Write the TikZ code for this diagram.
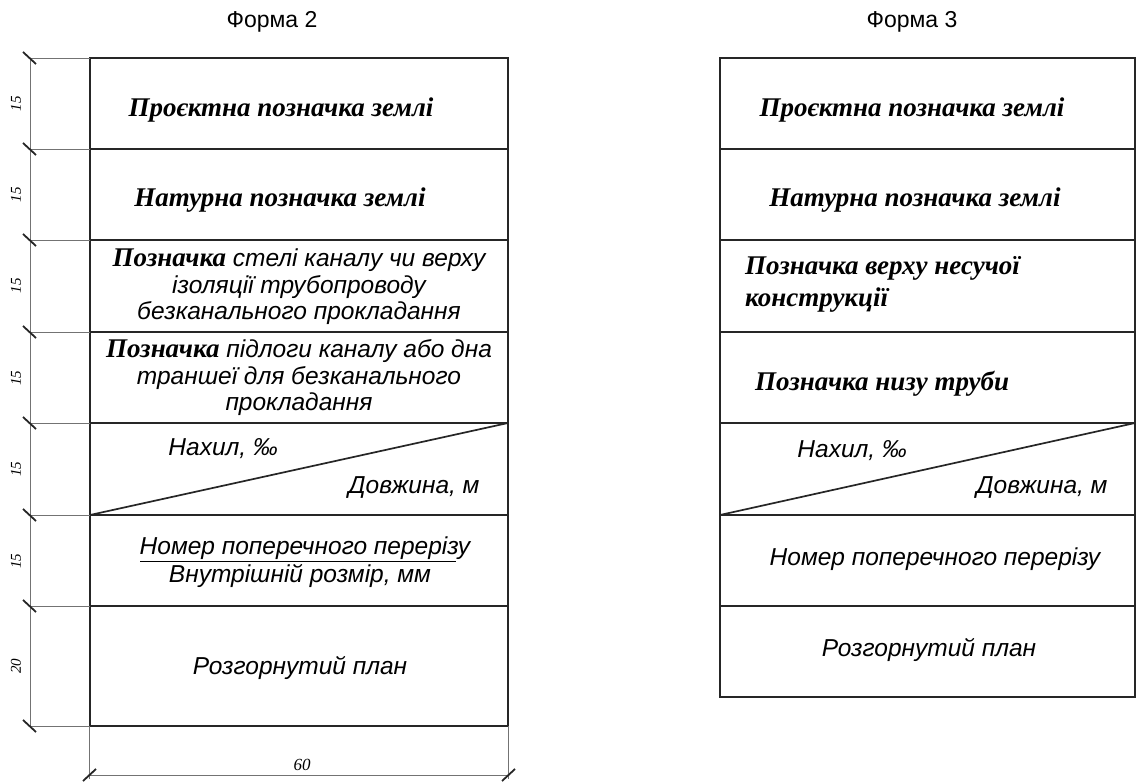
\documentclass[tikz,border=0pt]{standalone}
\usepackage{fontspec}
\setmainfont{Liberation Serif}
\setsansfont{Liberation Sans}
\usetikzlibrary{calc}
\newcommand{\srf}{\fontsize{27}{32}\selectfont\rmfamily\bfseries\itshape}
\newcommand{\snf}{\fontsize{24.5}{26.5}\selectfont\sffamily\itshape}
\tikzset{
	frame/.style={line width=1.7pt, color=black!85},
	extline/.style={line width=0.8pt, color=black!55},
	dimtick/.style={line width=1.8pt, color=black!85},
	sertext/.style={font=\srf},
	santext/.style={font=\snf, align=center},
	title/.style={font=\fontsize{23}{26}\selectfont\sffamily},
	dimnum/.style={font=\fontsize{15}{16}\selectfont\itshape, rotate=90}
}

\begin{document}
\begin{tikzpicture}[x=1pt, y=-1pt]
		%%%%% START %%%%%
		\useasboundingbox (0, 0) rectangle (1137, 783);
		
		\node[title] (ttwo) at (272, 22) {Форма 2};
		\node[title] (tthree) at (912, 22) {Форма 3};
		
		%%%%% FORM 2 %%%%%
		\draw[frame] (90, 58) rectangle (508, 726);
		\draw[frame] (90, 149) -- (508, 149);
		\draw[frame] (90, 240) -- (508, 240);
		\draw[frame] (90, 332) -- (508, 332);
		\draw[frame] (90, 423) -- (508, 423);
		\draw[frame] (90, 515) -- (508, 515);
		\draw[frame] (90, 606) -- (508, 606);
		\draw[frame] (90, 515) -- (508, 423);
		
		% dimension line on the left
		\draw[extline] (30, 58) -- (30, 726);
		\draw[extline] (30, 58) -- (90, 58);
		\draw[extline] (30, 149) -- (90, 149);
		\draw[extline] (30, 240) -- (90, 240);
		\draw[extline] (30, 332) -- (90, 332);
		\draw[extline] (30, 423) -- (90, 423);
		\draw[extline] (30, 515) -- (90, 515);
		\draw[extline] (30, 606) -- (90, 606);
		\draw[extline] (30, 726) -- (90, 726);
		\draw[dimtick] (23, 52) -- (36, 64);
		\draw[dimtick] (23, 143) -- (36, 155);
		\draw[dimtick] (23, 234) -- (36, 246);
		\draw[dimtick] (23, 326) -- (36, 338);
		\draw[dimtick] (23, 417) -- (36, 429);
		\draw[dimtick] (23, 509) -- (36, 521);
		\draw[dimtick] (23, 600) -- (36, 612);
		\draw[dimtick] (23, 720) -- (36, 732);
		\node[dimnum] (da) at (16, 104) {15};
		\node[dimnum] (db) at (16, 195) {15};
		\node[dimnum] (dc) at (16, 286) {15};
		\node[dimnum] (dd) at (16, 378) {15};
		\node[dimnum] (de) at (16, 469) {15};
		\node[dimnum] (df) at (16, 561) {15};
		\node[dimnum] (dg) at (16, 666) {20};
		
		% dimension line at the bottom
		\draw[extline] (89, 726) -- (89, 779);
		\draw[extline] (508, 726) -- (508, 779);
		\draw[extline] (89, 775) -- (508, 775);
		\draw[dimtick] (83, 781) -- (96, 769);
		\draw[dimtick] (502, 781) -- (515, 769);
		\node[font=\fontsize{17}{18}\selectfont\itshape] (dw) at (302, 765) {60};
		
		\node[sertext] (pa) at (281, 110) {Проєктна позначка землі};
		\node[sertext] (pb) at (280, 200) {Натурна позначка землі};
		\node[santext] (pc) at (299, 287) {{\srf Позначка} стелі каналу чи верху\\ізоляції трубопроводу\\безканального прокладання};
		\node[santext] (pd) at (299, 378) {{\srf Позначка} підлоги каналу або дна\\траншеї для безканального\\прокладання};
		\node[santext] (pe) at (223, 449) {Нахил, ‰};
		\node[santext] (pf) at (414, 488) {Довжина, м};
		\node[santext] (pg) at (305, 548) {Номер поперечного перерізу};
		\draw[line width=1pt] (140, 561) -- (456, 561);
		\node[santext] (ph) at (300, 576) {Внутрішній розмір, мм};
		\node[santext] (pi) at (300, 668) {Розгорнутий план};
		
		%%%%% FORM 3 %%%%%
		\draw[frame] (720, 58) rectangle (1135, 697);
		\draw[frame] (720, 149) -- (1135, 149);
		\draw[frame] (720, 240) -- (1135, 240);
		\draw[frame] (720, 332) -- (1135, 332);
		\draw[frame] (720, 423) -- (1135, 423);
		\draw[frame] (720, 515) -- (1135, 515);
		\draw[frame] (720, 606) -- (1135, 606);
		\draw[frame] (720, 515) -- (1135, 423);
		
		\node[sertext] (qa) at (912, 110) {Проєктна позначка землі};
		\node[sertext] (qb) at (915, 200) {Натурна позначка землі};
		\node[sertext, anchor=west, align=left, inner sep=0pt] (qc) at (745, 284) {Позначка верху несучої\\конструкції};
		\node[sertext, anchor=west, inner sep=0pt] (qd) at (755, 384) {Позначка низу труби};
		\node[santext] (qe) at (852, 451) {Нахил, ‰};
		\node[santext] (qf) at (1042, 488) {Довжина, м};
		\node[santext] (qg) at (935, 559) {Номер поперечного перерізу};
		\node[santext] (qh) at (929, 650) {Розгорнутий план};
		
		%%%%% END %%%%%
	\end{tikzpicture}
\end{document}
